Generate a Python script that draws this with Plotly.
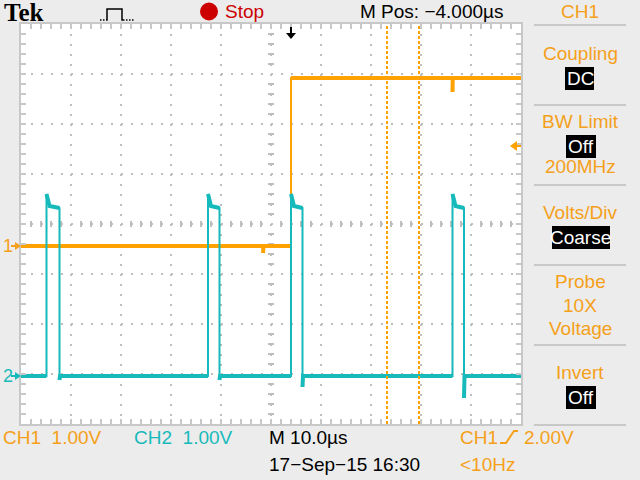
import plotly.graph_objects as go

# ---------------- data ----------------
time_window_us = [-54.0, 46.0]            # M Pos -4.000 us, 10 us/div, 10 div
ch1_time_us = [-54.0, -5.6, -5.6, -5.5, 0.0, 0.0, 32.3, 32.3, 32.35, 46.0]
ch1_volts = [0.0, 0.0, -0.14, 0.0, 0.0, 3.36, 3.36, 3.08, 3.36, 3.36]

ch2_time_us = [-54.0, -48.9, -48.9, -48.3, -46.3, -46.3, -46.2,
               -16.6, -16.6, -16.0, -14.3, -14.3, -14.2,
               0.0, 0.0, 0.6, 2.3, 2.3, 2.4,
               32.3, 32.3, 32.9, 34.6, 34.6, 34.7, 46.0]
ch2_volts = [0.0, 0.0, 3.64, 3.40, 3.36, -0.08, 0.0,
             0.0, 3.64, 3.40, 3.36, -0.08, 0.0,
             0.0, 3.64, 3.40, 3.36, -0.22, 0.0,
             0.0, 3.64, 3.40, 3.36, -0.44, 0.0, 0.0]

cursor_time_us = [19.2, 25.6]
trigger_time_us = 0.0
trigger_level_v = 2.0
ch1_range_v = [-3.56, 4.44]
ch2_range_v = [-0.96, 7.04]

top_labels = {"brand": "Tek", "state": "Stop", "mpos": "M Pos: \u22124.000\u00b5s", "menu": "CH1"}
bottom_labels = {"ch1": "CH1  1.00V", "ch2": "CH2  1.00V", "time": "M 10.0\u00b5s",
                 "date": "17\u2212Sep\u221215 16:30", "trig_ch": "CH1", "trig_lvl": "2.00V",
                 "freq": "<10Hz"}
menu_items = [("Coupling", "DC", None), ("BW Limit", "Off", "200MHz"),
              ("Volts/Div", "Coarse", None), ("Probe", None, "10X\nVoltage"),
              ("Invert", "Off", None)]

# ---------------- style ----------------
ORANGE = "#FFA200"
ORANGE_T = "#F5A01A"
CYAN = "#17BABA"
GRID = "#BEBEBE"
BORDER = "#C8C8C8"
BG = "#ECECEC"
SANS = "Liberation Sans, Arial, sans-serif"
W, H = 640, 480
L, R, T, B = 21, 521, 24, 424


def PX(x):
    return (x - L) / (R - L)


def PY(y):
    return (B - y) / (B - T)


def split_band(ts, vs):
    bt, bv = [], []
    for i in range(len(ts)):
        if i > 0 and ts[i] == ts[i - 1]:
            bt.append(None)
            bv.append(None)
        bt.append(ts[i])
        bv.append(vs[i])
    return bt, bv


fig = go.Figure()

for ts, vs, col, ax in [(ch1_time_us, ch1_volts, ORANGE, "y"), (ch2_time_us, ch2_volts, CYAN, "y2")]:
    bt, bv = split_band(ts, vs)
    fig.add_trace(go.Scatter(x=bt, y=bv, mode="lines", yaxis=ax, line=dict(color=col, width=4),
                             hoverinfo="skip", showlegend=False, connectgaps=False))
    fig.add_trace(go.Scatter(x=ts, y=vs, mode="lines", yaxis=ax, line=dict(color=col, width=2),
                             showlegend=False))

shapes = []
annotations = []


def text(t, x, y, color, size=19, anchor="left", family=SANS):
    annotations.append(dict(text=t, xref="paper", yref="paper", x=PX(x), y=PY(y), xanchor=anchor,
                            yanchor="middle", showarrow=False, borderpad=0,
                            font=dict(family=family, size=size, color=color)))


# cursors
for c in cursor_time_us:
    shapes.append(dict(type="line", xref="x", yref="paper", x0=c, x1=c, y0=0, y1=1,
                       line=dict(color=ORANGE, width=2, dash="3px,2px"), layer="above"))

# center cross ticks
cx = L + 250
cy = T + 200
for k in range(1, 40):
    y = T + 10 * k
    if k % 5:
        shapes.append(dict(type="line", xref="paper", yref="paper", x0=PX(cx - 3), x1=PX(cx + 3),
                           y0=PY(y), y1=PY(y), line=dict(color=GRID, width=2), layer="below"))
for k in range(1, 50):
    x = L + 10 * k
    if k % 5:
        shapes.append(dict(type="line", xref="paper", yref="paper", x0=PX(x), x1=PX(x),
                           y0=PY(cy - 3), y1=PY(cy + 3), line=dict(color=GRID, width=2), layer="below"))

# trigger position marker (top)
shapes.append(dict(type="line", xref="x", yref="paper", x0=trigger_time_us, x1=trigger_time_us,
                   y0=PY(27), y1=PY(35), line=dict(color="black", width=2)))
shapes.append(dict(type="path", xref="paper", yref="paper",
                   path=f"M {PX(286)},{PY(33)} L {PX(296)},{PY(33)} L {PX(291)},{PY(39)} Z",
                   fillcolor="black", line=dict(width=0)))

# trigger level marker (right)
tl_py = 246 - trigger_level_v * 50
shapes.append(dict(type="path", xref="paper", yref="paper",
                   path=f"M {PX(510)},{PY(tl_py)} L {PX(517)},{PY(tl_py-5)} L {PX(517)},{PY(tl_py+5)} Z",
                   fillcolor=ORANGE, line=dict(width=0)))
shapes.append(dict(type="line", xref="paper", yref="paper", x0=PX(515), x1=PX(521),
                   y0=PY(tl_py), y1=PY(tl_py), line=dict(color=ORANGE, width=2)))

# ground markers
for lab, col, gy in [("1", ORANGE_T, 246), ("2", CYAN, 376)]:
    text(lab, 2, gy, col, size=18)
    shapes.append(dict(type="line", xref="paper", yref="paper", x0=PX(11), x1=PX(20),
                       y0=PY(gy), y1=PY(gy), line=dict(color=col, width=2)))
    shapes.append(dict(type="path", xref="paper", yref="paper",
                       path=f"M {PX(15)},{PY(gy-4)} L {PX(21)},{PY(gy)} L {PX(15)},{PY(gy+4)} Z",
                       fillcolor=col, line=dict(width=0)))

# top bar
text("<b>" + top_labels["brand"] + "</b>", 3, 13, "black", size=25, family="Liberation Serif, serif")
shapes.append(dict(type="path", xref="paper", yref="paper",
                   path=f"M {PX(106)},{PY(20)} L {PX(107)},{PY(20)} L {PX(107)},{PY(9)} L {PX(122)},{PY(9)} L {PX(122)},{PY(20)} L {PX(123)},{PY(20)}",
                   line=dict(color="black", width=1.5)))
for x0, x1 in [(100, 106), (123, 135)]:
    shapes.append(dict(type="line", xref="paper", yref="paper", x0=PX(x0), x1=PX(x1),
                       y0=PY(20), y1=PY(20), line=dict(color="black", width=1.5, dash="1.5px,1.5px")))
shapes.append(dict(type="circle", xref="paper", yref="paper", x0=PX(200), x1=PX(218),
                   y0=PY(20.5), y1=PY(2.5), fillcolor="#CC0000", line=dict(width=0)))
text(top_labels["state"], 224, 12, "#CC0000")
text(top_labels["mpos"], 359, 12, "black")
text(top_labels["menu"], 580, 12, ORANGE_T, anchor="center")

# right menu panel
for sy in [25, 105, 185, 265, 345, 425]:
    shapes.append(dict(type="line", xref="paper", yref="paper", x0=PX(534), x1=PX(626),
                       y0=PY(sy), y1=PY(sy), line=dict(color=BORDER, width=2)))

menu_rows = [(53, 78, None, (565, 67, 594, 90)),
             (121, 146, 166, (566, 135, 596, 158)),
             (212, 237, None, (552, 226, 610, 249)),
             (281, None, 305, None),
             (372, 397, None, (566, 386, 596, 409))]
for (title, boxed, extra), (ty, by, ey, box) in zip(menu_items, menu_rows):
    text(title, 580, ty, ORANGE_T, anchor="center")
    if boxed:
        shapes.append(dict(type="rect", xref="paper", yref="paper", x0=PX(box[0]), x1=PX(box[2]),
                           y0=PY(box[3]), y1=PY(box[1]), fillcolor="black", line=dict(width=0)))
        text(boxed, 580.5, by, "white", anchor="center")
    if extra:
        for j, line in enumerate(extra.split("\n")):
            text(line, 580, ey + 23 * j, ORANGE_T, anchor="center")

# bottom bar
for key, x, y, col in [("ch1", 2, 437, ORANGE_T), ("ch2", 133, 437, CYAN), ("time", 268, 437, "black"),
                       ("date", 268, 464, "black"), ("trig_ch", 459, 437, ORANGE_T),
                       ("trig_lvl", 523, 437, ORANGE_T), ("freq", 459, 464, ORANGE_T)]:
    text(bottom_labels[key], x, y, col)
shapes.append(dict(type="path", xref="paper", yref="paper",
                   path=f"M {PX(500)},{PY(443)} L {PX(506)},{PY(443)} L {PX(514)},{PY(431)} L {PX(518)},{PY(431)}",
                   line=dict(color=ORANGE_T, width=2)))

axis_common = dict(showticklabels=False, zeroline=False, showline=True, linecolor=BORDER, linewidth=2,
                   mirror="ticks", ticks="inside", ticklen=5, tickwidth=2, tickcolor=BORDER,
                   showgrid=True, gridcolor=GRID, gridwidth=2, griddash="2px,8px", fixedrange=True)

fig.update_layout(
    width=W, height=H,
    margin=dict(l=L, r=W - R, t=T, b=H - B, pad=0),
    paper_bgcolor=BG, plot_bgcolor="white",
    showlegend=False,
    xaxis=dict(range=time_window_us, tick0=time_window_us[0], dtick=10,
               minor=dict(tick0=time_window_us[0], dtick=2, ticks="inside", ticklen=5, tickwidth=2,
                          tickcolor=BORDER, showgrid=False), **axis_common),
    yaxis=dict(range=ch1_range_v, tick0=ch1_range_v[0], dtick=1,
               minor=dict(tick0=ch1_range_v[0], dtick=0.2, ticks="inside", ticklen=5, tickwidth=2,
                          tickcolor=BORDER, showgrid=False), **axis_common),
    yaxis2=dict(range=ch2_range_v, overlaying="y", visible=False, fixedrange=True),
    shapes=shapes,
    annotations=annotations,
)

fig.write_html("out.html", config={"displayModeBar": False},
               post_script="document.body.style.margin='0';")
